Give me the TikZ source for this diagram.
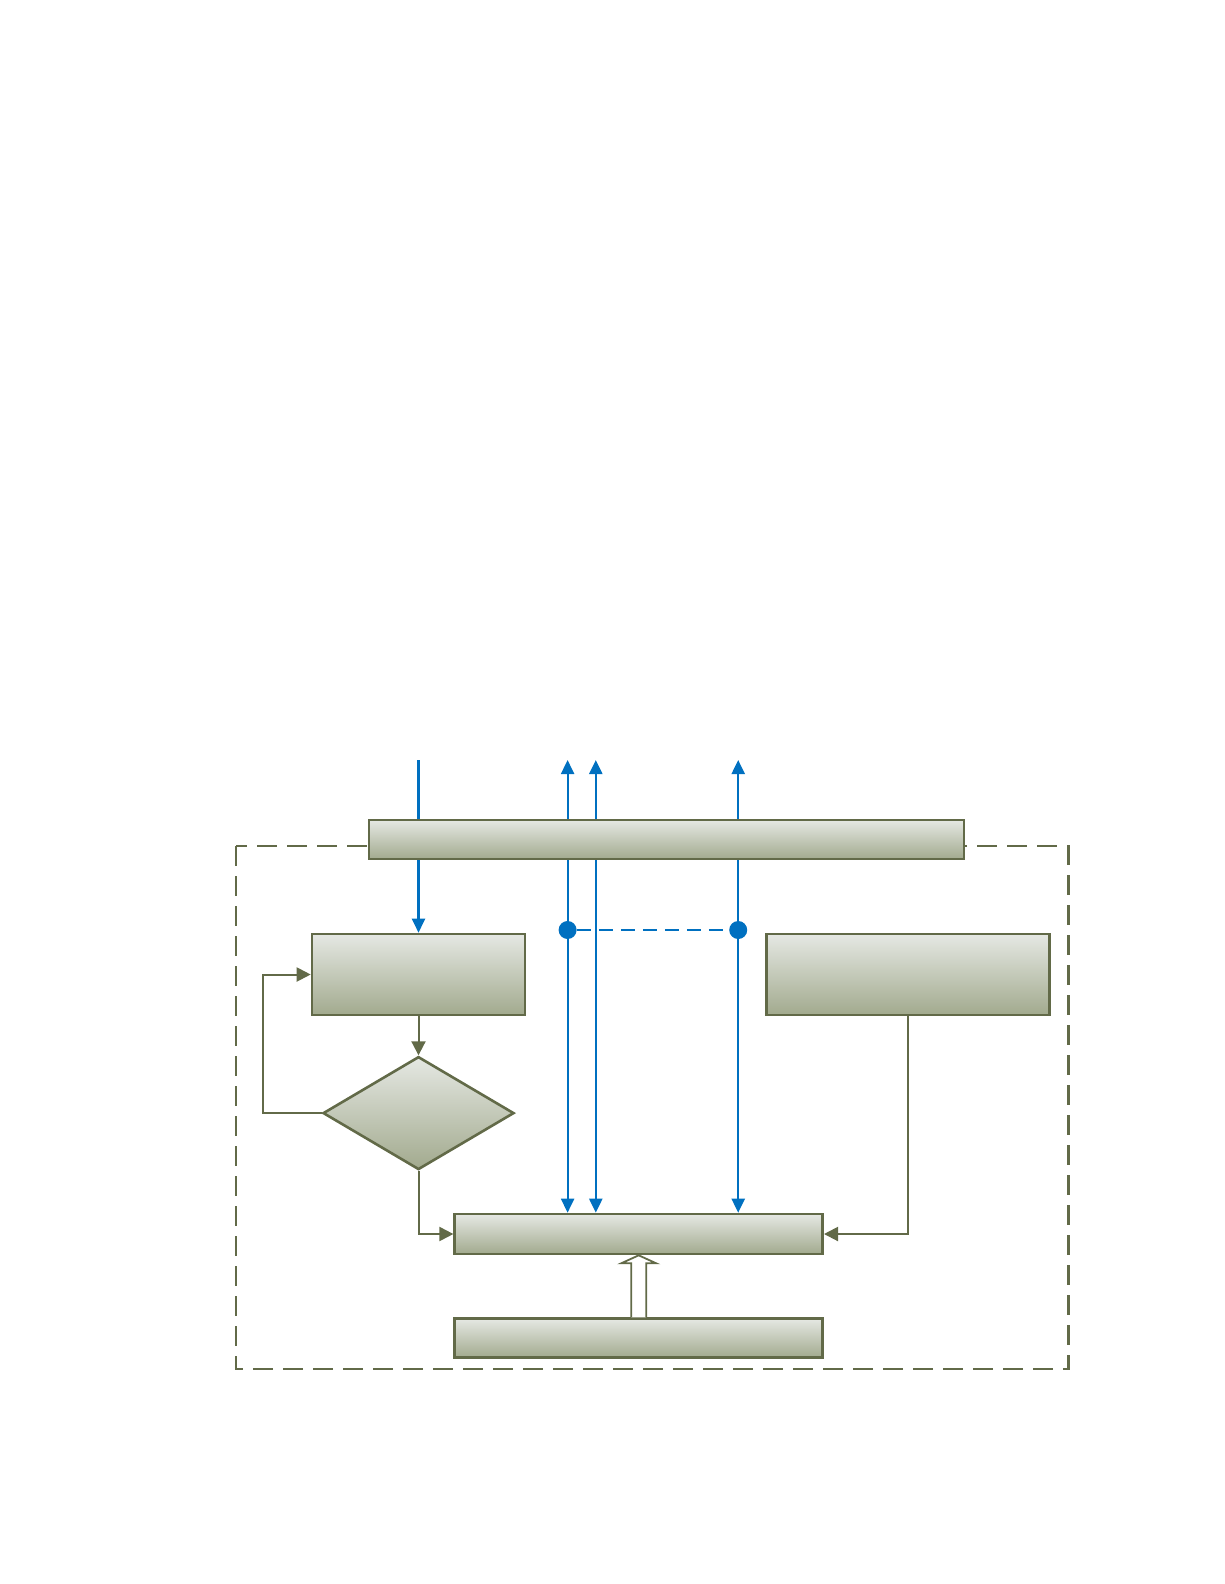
\documentclass[tikz,border=0pt]{standalone}
\usetikzlibrary{arrows.meta,positioning,shapes.geometric}
\definecolor{olivedk}{RGB}{98,106,72}
\definecolor{shadetop}{RGB}{229,232,227}
\definecolor{shadebot}{RGB}{162,170,142}
\definecolor{sigblue}{RGB}{0,112,192}
\pgfdeclarelayer{back}
\pgfsetlayers{back,main}

\begin{document}
\begin{tikzpicture}[
    x=1pt, y=-1pt,
    node distance=40pt,
    box/.style={draw=olivedk, line width=2.6pt, top color=shadetop, bottom color=shadebot, inner sep=0pt},
    decide/.style={box, diamond, minimum width=191pt, minimum height=113pt},
    flow/.style={-{Triangle[length=14pt, width=14pt]}, draw=olivedk, line width=2pt},
    sig/.style={-{Triangle[length=14pt, width=13pt]}, draw=sigblue, line width=2.2pt},
    sigboth/.style={{Triangle[length=14pt, width=13pt]}-{Triangle[length=14pt, width=13pt]}, draw=sigblue, line width=2.2pt},
    dot/.style={circle, fill=sigblue, inner sep=0pt, minimum size=18pt},
    hollow/.style={draw=olivedk, fill=white, line width=1.8pt, line join=miter},
    frame/.style={draw=olivedk, line width=2.7pt, dash pattern=on 20pt off 10pt}
]
\useasboundingbox (0,0) rectangle (1224,1584);

\node[box, minimum width=595pt, minimum height=39pt] (bus) at (666.5,839.5) {};
\node[box, minimum width=213pt, minimum height=81pt] (entry) at (418.5,974.5) {};
\node[box, minimum width=283pt, minimum height=81pt] (side) at (908,974.5) {};
\node[decide, below=39pt of entry] (check) {};
\node[box, minimum width=368pt, minimum height=40pt] (merge) at (638.7,1234) {};
\node[box, minimum width=368pt, minimum height=39pt, below=62pt of merge] (source) {};

\coordinate (in1) at (418.5,760);
\coordinate (out1) at (567.6,760);
\coordinate (out2) at (595.8,760);
\coordinate (out3) at (738.2,760);
\node[dot] (tapa) at (567.6,930) {};
\node[dot] (tapb) at (738.2,930) {};

\begin{pgfonlayer}{back}
\draw[frame] (236,846) rectangle (1068.5,1369);
\draw[sig] (in1) -- (entry.north);
\draw[sigboth] (merge.north -| out1) -- (out1);
\draw[sigboth] (merge.north -| out2) -- (out2);
\draw[sigboth] (merge.north -| out3) -- (out3);
\end{pgfonlayer}
\draw[draw=sigblue, line width=2.2pt, dash pattern=on 14pt off 8pt] (tapa) -- (tapb);

\draw[flow] (entry.south) -- (check.north);
\draw[flow] (check.west) -- ++(-59,0) |- (entry.west);
\draw[flow] (check.south) |- (merge.west);
\draw[flow] (side.south) |- (merge.east);

\draw[hollow] ([xshift=-7.5pt]source.north) -- ([xshift=-7.5pt, yshift=-8pt]merge.south)
    -- ([xshift=-17.5pt, yshift=-8pt]merge.south) -- (merge.south)
    -- ([xshift=17.5pt, yshift=-8pt]merge.south) -- ([xshift=7.5pt, yshift=-8pt]merge.south)
    -- ([xshift=7.5pt]source.north);
\end{tikzpicture}
\end{document}
